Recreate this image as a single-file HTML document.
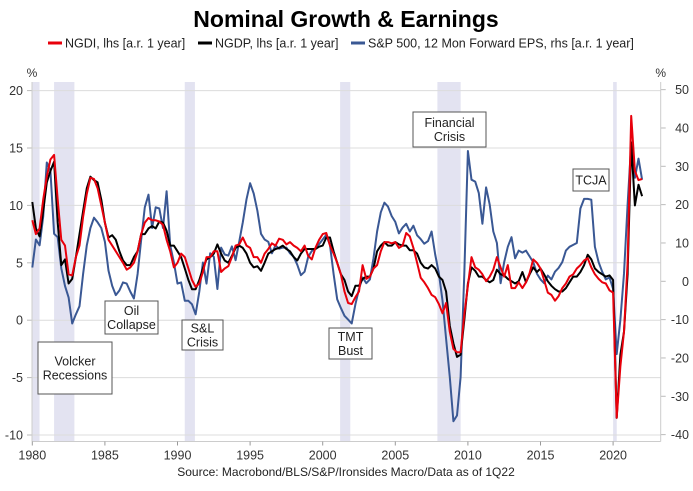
<!DOCTYPE html>
<html><head><meta charset="utf-8">
<style>
body{margin:0;background:#fff;font-family:"Liberation Sans",Arial,sans-serif;}
svg text{font-family:"Liberation Sans",Arial,sans-serif;}
</style></head>
<body>
<svg id="chart" width="693" height="486" viewBox="0 0 693 486" xmlns="http://www.w3.org/2000/svg">
<text x="346" y="27" text-anchor="middle" font-size="23" font-weight="bold" fill="#000">Nominal Growth &amp; Earnings</text>
<g>
<g><line x1="48" y1="43" x2="62" y2="43" stroke="#e8000b" stroke-width="3"/><text x="65" y="47.5" font-size="12.5" fill="#222">NGDI, lhs [a.r. 1 year]</text></g>
<g><line x1="198" y1="43" x2="212" y2="43" stroke="#000" stroke-width="3"/><text x="215" y="47.5" font-size="12.5" fill="#222">NGDP, lhs [a.r. 1 year]</text></g>
<g><line x1="351" y1="43" x2="365" y2="43" stroke="#3a5894" stroke-width="3"/><text x="368" y="47.5" font-size="12.5" fill="#222">S&amp;P 500, 12 Mon Forward EPS, rhs [a.r. 1 year]</text></g>
</g>
<g id="shades"></g>
<g id="grid"></g>
<g id="axes"></g>
<g id="series"></g>
<g id="notes"></g>
<text x="346" y="476" text-anchor="middle" font-size="12" fill="#222">Source: Macrobond/BLS/S&amp;P/Ironsides Macro/Data as of 1Q22</text>
</svg>
<script>
const startYear = 1980;
const ngdp = [
10.3,8,7.3,9.5, 12,13,13.8,8.5, 4.8,5.3,3.2,3.6, 5.5,7.5,9.5,11.5, 12.5,12.2,12,10.5,
8.5,7.2,7.4,7, 6,5.2,4.8,4.8, 5.5,6,7.5,7.5, 8,8.2,8,8.6, 8.5,7.8,6.5,6.5,
6,5.5,4.5,3.5, 2.7,2.7,3.5,4.5, 5.3,5.5,5.8,6.6, 5.8,5.2,5,5.6, 6.3,6.5,6.3,5.8,
5,4.6,4.7,4.3, 5,5.8,6,6.2, 6.3,6.5,6.2,6, 5.5,5.2,5.8,6.2, 6.2,6.2,6.2,6.4,
6.5,7.2,7.2,6, 5,4,3.5,2.5, 2.1,3,3,3.6, 3.8,3.8,4.5,6, 6.5,6.8,6.5,6.5,
6.8,6.6,6.5,6.5, 6.1,6.1,5.8,5, 4.6,4.5,4.8,4.5, 3.8,3.5,2.5,-0.5, -2,-3.2,-3,0,
3.2,4.6,4.3,3.8, 3.8,3.5,3.3,3.5, 4.4,4,3.9,3.6, 3.4,3.2,3.4,4.2, 3.3,4,4.6,4.2,
4.5,4,3.4,3, 2.7,2.5,2.5,2.8, 3.3,3.8,3.8,4.2, 4.8,5.7,5.3,4.5, 4.2,4,3.8,3.9,
3.5,-8.5,-3,-1, 4,15.5,10,11.8, 10.8];
const ngdi = [
8.7,7.5,8,10.5, 12.5,14,14.4,10.5, 7,6.5,4,3.9, 5.5,6.5,9,11, 12.4,12.3,11.5,10,
8.5,7,6.5,6, 5.5,5,4.4,4.6, 5,6,7.5,8.5, 8.9,8.7,8.7,8.6, 8.3,7,6,4.6,
5,5.8,5.5,4.5, 3.5,2.9,3.2,4.2, 5.5,5.5,6,6, 4.2,4.5,4.7,5.5, 6.5,6.6,7.2,6.5,
6.3,5.5,5.5,5, 5.8,6.2,6.7,6.5, 7.1,7,6.6,6.8, 6.5,6.3,6,6.5, 5.6,5.3,6.3,7,
7.5,7.6,6.5,5.8, 5,4,2.5,1.5, 1.4,2,2.5,4.8, 3.6,3.8,4.5,4.8, 6,6.8,6.8,6.7,
6.8,6.3,6.5,7.6, 7.3,6.3,5,3.7, 3.3,2.8,2.2,2, 1.4,0.6,1.5,-1, -2.5,-2.8,-2.8,0.5,
3,5.5,4.6,4.4, 4,3.4,3.8,4.4, 5.5,4.6,3.8,4.8, 2.8,2.8,3.3,2.8, 3.3,4.1,5.3,5,
4.5,3.5,2.4,2.2, 1.7,2.1,2.8,3.2, 3.8,4,4.5,4.8, 5.2,5.4,4.6,4, 3.6,3.3,3.2,2.6,
2.4,-8.5,-4,-1, 5,17.8,13,12.2, 12.3];
const eps = [
3.6,10.9,9.4,16.9, 31,28.9,12.4,11.5, 3.4,-1.2,-4.2,-11, -8.6,-6.5,1.9,9.4, 13.9,16.6,15.4,13.9,
10.3,2.8,-1.2,-3.6, -2.4,-0.3,-0.6,-2.7, -4.5,1.9,10.9,19.3, 22.6,13.9,19.3,19, 13.9,23.5,9.4,4.9,
-0.6,-0.3,-5.1,-5.1, -6,-8.6,-2.7,4.9, -0.6,7.3,6.4,-2, 8.8,7,6.7,9.1, 5.5,10.3,15.4,21.4,
25.6,22.9,18.4,12.4, 10.9,10.3,7.3,9.4, 8.5,8.8,8.8,7.3, 6.4,4.3,1.6,2.5, 6.4,7.9,8.5,9.7,
10.9,12.1,9.4,1.9, -4.7,-7,-9,-10, -11,-6,-2,1, -0.5,0.5,6,13, 18,20.5,19.5,17,
15.5,12.5,14,15, 13,14.5,12,11, 9.8,10.5,13,7, 2,-5,-15,-25, -36.5,-35,-25,2,
34,26.5,26,23, 15,24.5,20,13, 10,-0.5,5,9, 11.5,6,8,7.5, 8,6.5,5,2,
0.5,-0.5,1.5,0.5, 2.5,3.5,5,8, 9,9.5,10,19, 21.5,21.5,21.3,9, 5,2.5,0.5,1,
-2,-19,-10,2, 20,36,27,32, 26.5];
const xTicks = [1980,1985,1990,1995,2000,2005,2010,2015,2020];
const leftTicks = [20,15,10,5,0,-5,-10];
const rightTicks = [50,40,30,20,10,0,-10,-20,-30,-40];
const recStart = [1980.0,1981.5,1990.5,2001.2,2007.9,2020.0];
const recEnd = [1980.5,1982.9,1991.2,2001.9,2009.5,2020.25];
const noteLabels = [["Volcker","Recessions"],["Oil","Collapse"],["S&L","Crisis"],["TMT","Bust"],["Financial","Crisis"],["TCJA"]];

const NS="http://www.w3.org/2000/svg";
const X0=32.3, PX=14.52, L0=320.2, LP=11.48, R0=281.3, RP=3.833, XL=32, XR=660.7, YB=441.5;
const xs = y => X0+(y-1980)*PX;
const yl = v => L0-v*LP;
const yr = v => R0-v*RP;
function mk(tag, attrs, parent){const e=document.createElementNS(NS,tag);for(const k in attrs)e.setAttribute(k,attrs[k]);parent.appendChild(e);return e;}
const shades=document.getElementById('shades'), grid=document.getElementById('grid'), axes=document.getElementById('axes'), series=document.getElementById('series'), notes=document.getElementById('notes');

recStart.forEach((s,i)=>{
  const r=mk('rect',{x:xs(s),y:82,width:xs(recEnd[i])-xs(s),height:YB-82,fill:'#e3e3f1'},shades);
  
  
});
leftTicks.forEach(v=>{
  const g=mk('line',{x1:XL,x2:XR,y1:yl(v),y2:yl(v),stroke:'#dcdcdc','stroke-width':1},grid);
  
  
  mk('line',{x1:XL-5,x2:XL,y1:yl(v),y2:yl(v),stroke:'#bbb'},axes);
  const t=mk('text',{x:XL-9,y:yl(v)+4.5,'text-anchor':'end','font-size':12.5,fill:'#333'},axes);
  t.textContent=v;
  
  
});
rightTicks.forEach(v=>{
  mk('line',{x1:XR,x2:XR+5,y1:yr(v),y2:yr(v),stroke:'#bbb'},axes);
  const t=mk('text',{x:689,y:yr(v)+4.5,'text-anchor':'end','font-size':12.5,fill:'#333'},axes);
  t.textContent=v;
  
  
});
mk('line',{x1:XL,x2:XL,y1:82,y2:YB,stroke:'#ccc'},axes);
mk('line',{x1:XR,x2:XR,y1:82,y2:YB,stroke:'#ccc'},axes);
mk('line',{x1:XL,x2:XR,y1:YB,y2:YB,stroke:'#ccc'},axes);
xTicks.forEach(y=>{
  mk('line',{x1:xs(y),x2:xs(y),y1:YB,y2:YB+4,stroke:'#999'},axes);
  const t=mk('text',{x:xs(y),y:YB+18,'text-anchor':'middle','font-size':12.5,fill:'#333'},axes);
  t.textContent=y;
  
  
});
[[XL,'left-unit-label'],[XR,'right-unit-label']].forEach(([x,n])=>{
  const t=mk('text',{x:x,y:77,'text-anchor':'middle','font-size':12,fill:'#333'},axes);
  t.textContent='%';
  
  
});
function line(vals, ys, color, name){
  const d=vals.map((v,i)=>(i?'L':'M')+xs(startYear+i*0.25).toFixed(1)+','+ys(v).toFixed(1)).join('');
  const p=mk('path',{d:d,fill:'none',stroke:color,'stroke-width':2,'stroke-linejoin':'round'},series);
  
  
}
line(eps, yr, '#3a5894', 'eps-line');
line(ngdp, yl, '#000', 'ngdp-line');
line(ngdi, yl, '#e8000b', 'ngdi-line');

const boxes=[[38,342,74,52],[105,301,53,33],[182,320,41,30],[329,328,43,31],[413,112,73,35],[573,169,36,22]];
boxes.forEach((b,i)=>{
  const g=mk('g',{},notes);
  
  
  mk('rect',{x:b[0],y:b[1],width:b[2],height:b[3],fill:'#fff',stroke:'#555','stroke-width':1},g);
  const lines=noteLabels[i], n=lines.length;
  lines.forEach((s,j)=>{
    const t=mk('text',{x:b[0]+b[2]/2,y:b[1]+b[3]/2+4.5+(j-(n-1)/2)*14,'text-anchor':'middle','font-size':12.5,fill:'#222'},g);
    t.textContent=s;
  });
});
</script>
</body></html>
